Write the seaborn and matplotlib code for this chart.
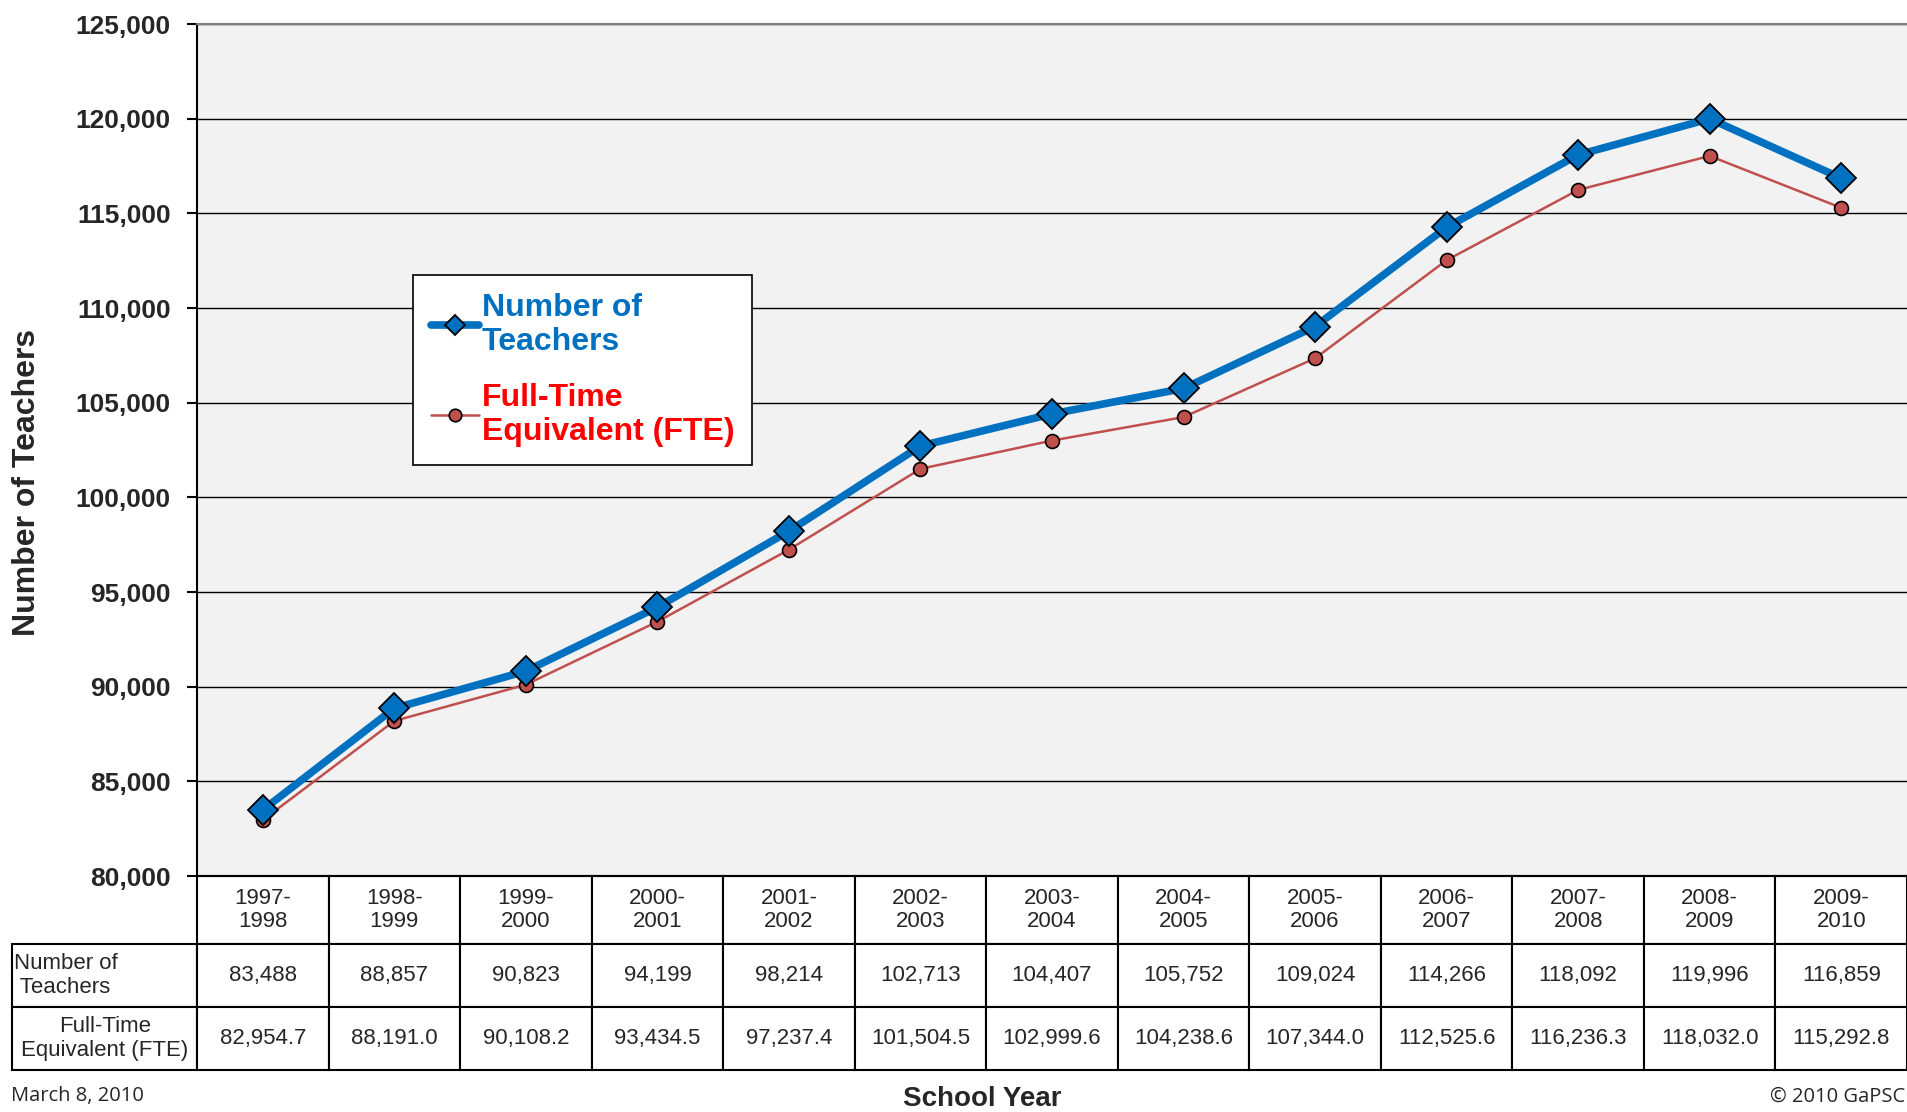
import matplotlib
matplotlib.use("Agg")
import matplotlib.pyplot as plt
import pandas as pd
import seaborn as sns
from matplotlib.ticker import FuncFormatter

school_years = ["1997-\n1998", "1998-\n1999", "1999-\n2000", "2000-\n2001", "2001-\n2002",
                "2002-\n2003", "2003-\n2004", "2004-\n2005", "2005-\n2006", "2006-\n2007",
                "2007-\n2008", "2008-\n2009", "2009-\n2010"]
teachers = [83488, 88857, 90823, 94199, 98214, 102713, 104407, 105752, 109024,
            114266, 118092, 119996, 116859]
fte = [82954.7, 88191.0, 90108.2, 93434.5, 97237.4, 101504.5, 102999.6, 104238.6,
       107344.0, 112525.6, 116236.3, 118032.0, 115292.8]
row_labels = ["Number of\n Teachers", "Full-Time\nEquivalent (FTE)"]
y_ticks = [80000, 85000, 90000, 95000, 100000, 105000, 110000, 115000, 120000, 125000]

BLUE = "#0070C0"
RED = "#C0504D"

sns.set_theme(style="white")
plt.rcParams["font.family"] = ["Liberation Sans", "DejaVu Sans"]

df = pd.DataFrame({"idx": range(len(school_years)), "teachers": teachers, "fte": fte})

fig = plt.figure(figsize=(19.07, 11.12), dpi=100)
ax = fig.add_axes([0.1033, 0.2122, 0.8967, 0.7662])
ax.set_facecolor("#F2F2F2")

sns.lineplot(data=df, x="idx", y="teachers", ax=ax, color=BLUE, lw=5.5, marker="D",
             markersize=15, markerfacecolor=BLUE, markeredgecolor="black",
             markeredgewidth=1.3, label="Number of\nTeachers", zorder=4)
sns.lineplot(data=df, x="idx", y="fte", ax=ax, color=RED, lw=1.8, marker="o",
             markersize=10, markerfacecolor=RED, markeredgecolor="black",
             markeredgewidth=1.2, label="Full-Time\nEquivalent (FTE)", zorder=3)

ax.set_xlim(-0.5, len(school_years) - 0.5)
ax.set_ylim(80000, 125000)
ax.set_yticks(y_ticks)
ax.yaxis.set_major_formatter(FuncFormatter(lambda v, p: f"{int(v):,}"))
ax.tick_params(axis="y", labelsize=19, length=7, width=1.5, pad=12, direction="out", left=True, color="black")
for lab in ax.get_yticklabels():
    lab.set_fontweight("bold")
ax.set_xticks([])
ax.set_xlabel("")
ax.set_ylabel("")
ax.yaxis.grid(True, color="black", lw=1)
ax.xaxis.grid(False)
ax.spines["right"].set_visible(False)
ax.spines["left"].set_color("black")
ax.spines["left"].set_linewidth(1.5)
ax.spines["bottom"].set_color("black")
ax.spines["bottom"].set_linewidth(1.5)
ax.spines["top"].set_color("#808080")
ax.spines["top"].set_linewidth(1.5)

fig.text(0.014, 0.566, "Number of Teachers", rotation=90, fontsize=23, fontweight="bold",
         ha="center", va="center")

leg = ax.legend(loc="upper left", bbox_to_anchor=(0.2166, 0.7527), bbox_transform=fig.transFigure,
                fancybox=False, frameon=True, edgecolor="black", facecolor="white", framealpha=1,
                prop={"size": 23, "weight": "bold"}, handlelength=1.5, handletextpad=0.1,
                labelspacing=0.8, borderpad=0.55, borderaxespad=0)
leg.get_frame().set_linewidth(1.2)
for txt, col in zip(leg.get_texts(), [BLUE, "#FF0000"]):
    txt.set_color(col)
    txt.set_linespacing(1.2)
for handle, ms in zip(leg.legend_handles, [10, 9]):
    handle.set_markersize(ms)

# data table under the chart (first column holds the row labels)
cell_text = [[row_labels[0]] + [f"{v:,}" for v in teachers],
             [row_labels[1]] + [f"{v:,.1f}" for v in fte]]
label_w = 0.108
col_w = 1.0 / len(school_years)
tbl = ax.table(cellText=cell_text, colLabels=[""] + school_years, cellLoc="center",
               colWidths=[label_w] + [col_w] * len(school_years),
               bbox=[-label_w, -0.2277, 1 + label_w, 0.2277])
tbl.auto_set_font_size(False)
for (r, c), cell in tbl.get_celld().items():
    cell.set_linewidth(1.5)
    cell.set_edgecolor("black")
    cell.set_facecolor("white")
    cell.set_height(0.056 if r == 0 else 0.052)
    cell.get_text().set_fontsize(16)
    cell.get_text().set_linespacing(1.15)
    if r == 0 and c == 0:
        cell.visible_edges = ""
        cell.set_facecolor("none")
first = tbl[(1, 0)]
first._loc = "left"
first.PAD = 0.01
first.get_text().set_horizontalalignment("left")
first.get_text().set_multialignment("left")

fig.text(0.006, 0.005, "March 8, 2010", fontsize=14.5, family="Open Sans", ha="left", va="bottom")
fig.text(0.999, 0.005, "\u00a9 2010 GaPSC", fontsize=14.5, family="Open Sans", ha="right", va="bottom")
fig.text(0.515, 0.0, "School Year", fontsize=20, fontweight="bold", ha="center", va="bottom")

fig.savefig("out.png", dpi=100)
